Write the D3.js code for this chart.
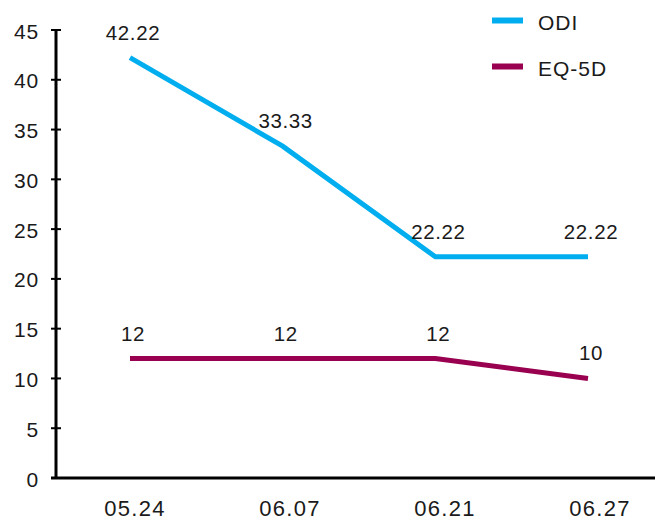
<!DOCTYPE html>
<html>
<head>
<meta charset="utf-8">
<script src="https://cdn.jsdelivr.net/npm/d3@7"></script>
<style>
  body { margin: 0; background: #fff; }
  svg text { font-family: "Liberation Sans", Arial, sans-serif; fill: #1a1a1a; }
</style>
</head>
<body>
<div id="chart"></div>
<script>
const dates = ["05.24", "06.07", "06.21", "06.27"];
const odi = [42.22, 33.33, 22.22, 22.22];
const eq5d = [12, 12, 12, 10];
const yTicks = [0, 5, 10, 15, 20, 25, 30, 35, 40, 45];

const series = [
  {name: "ODI", values: odi, color: "#00aeef"},
  {name: "EQ-5D", values: eq5d, color: "#990050"}
];

const width = 655, height = 520;
const svg = d3.select("#chart").append("svg")
  .attr("width", width).attr("height", height);

const x = d3.scalePoint().domain(dates).range([130, 588]);
const xLabel = d3.scalePoint().domain(dates).range([134, 599]);
const y = d3.scaleLinear().domain([0, 45]).range([478, 30]);

// y axis
const yAxis = svg.append("g");
yAxis.append("line")
  .attr("x1", 56).attr("x2", 56)
  .attr("y1", y(45) - 1).attr("y2", y(0))
  .attr("stroke", "#000").attr("stroke-width", 3);
yAxis.selectAll(".tick")
  .data(yTicks)
  .join("line")
  .attr("x1", 51).attr("x2", 61)
  .attr("y1", d => y(d)).attr("y2", d => y(d))
  .attr("stroke", "#000").attr("stroke-width", 2);
yAxis.selectAll("text")
  .data(yTicks)
  .join("text")
  .attr("x", 39)
  .attr("y", d => y(d) + 3)
  .attr("text-anchor", "end")
  .attr("dominant-baseline", "middle")
  .style("font-size", "21px")
  .style("letter-spacing", "0.8px")
  .text(d => d);

// x axis
svg.append("line")
  .attr("x1", 51).attr("x2", width)
  .attr("y1", y(0)).attr("y2", y(0))
  .attr("stroke", "#000").attr("stroke-width", 3);
svg.selectAll(".xlab")
  .data(dates)
  .join("text")
  .attr("class", "xlab")
  .attr("x", d => xLabel(d) + 1)
  .attr("y", 516)
  .attr("text-anchor", "middle")
  .style("font-size", "22px")
  .style("letter-spacing", "1.3px")
  .text(d => d);

// lines
const line = d3.line()
  .x((d, i) => x(dates[i]))
  .y(d => y(d));

series.forEach(s => {
  svg.append("path")
    .datum(s.values)
    .attr("d", line)
    .attr("fill", "none")
    .attr("stroke", s.color)
    .attr("stroke-width", 5);

  svg.append("g").selectAll("text")
    .data(s.values)
    .join("text")
    .attr("x", (d, i) => x(dates[i]) + 3)
    .attr("y", d => y(d) - 18)
    .attr("text-anchor", "middle")
    .style("font-size", "20.5px")
    .style("letter-spacing", "0.6px")
    .text(d => d);
});

// legend
const legend = svg.append("g");
series.forEach((s, i) => {
  const ly = 20.5 + i * 46;
  legend.append("line")
    .attr("x1", 492).attr("x2", 523)
    .attr("y1", ly).attr("y2", ly)
    .attr("stroke", s.color).attr("stroke-width", 6);
  legend.append("text")
    .attr("x", 538)
    .attr("y", ly + 4)
    .attr("dominant-baseline", "middle")
    .style("font-size", "21px")
    .style("letter-spacing", "1px")
    .text(s.name);
});
</script>
</body>
</html>
